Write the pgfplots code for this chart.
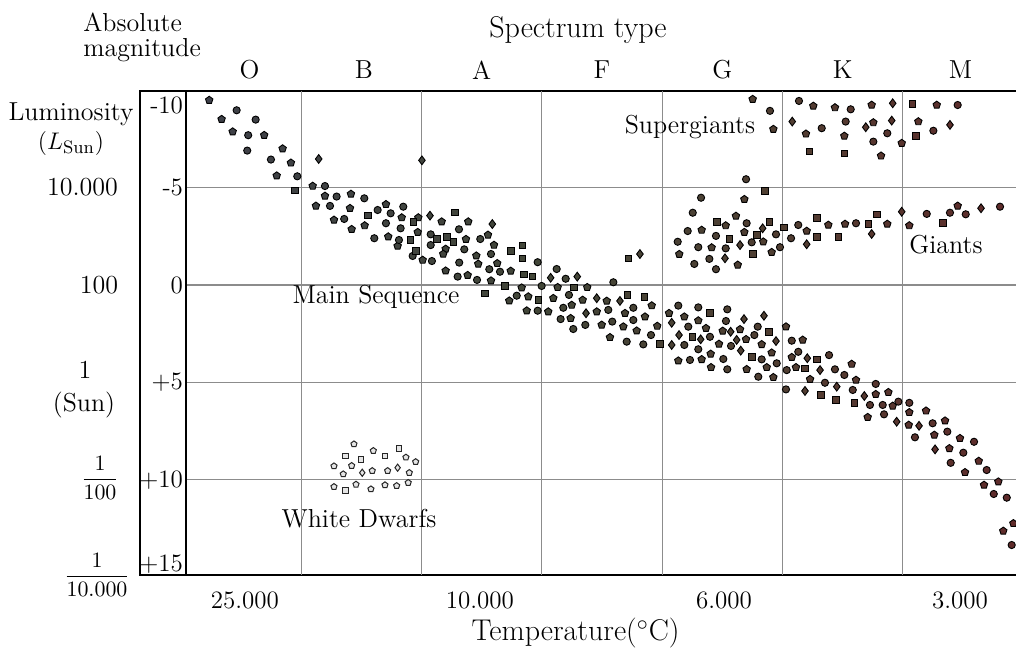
\documentclass[border=0pt]{standalone}
\usepackage{pgfplots}
\pgfplotsset{compat=1.18}
\usetikzlibrary{plotmarks}
\pgfplotsset{
  colormap={hr}{rgb255(0cm)=(62,64,74) rgb255(3cm)=(66,70,56) rgb255(5cm)=(80,62,50) rgb255(7cm)=(96,42,42)},
  star/.style={scatter, only marks, point meta=x, line width=0.45pt},
  dwarf/.style={only marks, draw=black!85, fill=gray!20, line width=0.5pt},
}
\begin{document}
\begin{tikzpicture}[font=\fontsize{13}{15}\selectfont]
\begin{axis}[
  at={(0,0)}, anchor=south west,
  scale only axis, width=416.75pt, height=242pt,
  xmin=0.42, xmax=69.7, ymin=-9.96, ymax=14.89, y dir=reverse,
  clip=false,
  axis line style={line width=0.9pt},
  major tick length=0pt,
  tick label style={font=\fontsize{12.5}{14}\selectfont},
  xtick={5.32,24.85,45.14,64.76}, xticklabels={25.000,10.000,6.000,3.000},
  xticklabel style={yshift=-5pt},
  extra x ticks={10,20,30,40,50,60}, extra x tick labels={},
  extra x tick style={grid=major},
  ytick={-5,0,5,10}, yticklabels={-5,0,+5,+10}, ymajorgrids,
  yticklabel style={xshift=2pt},
  extra y ticks={-9.24,14.33}, extra y tick labels={-10,+15},
  extra y tick style={grid=none},
  major grid style={black!45, line width=0.6pt},
  colormap name=hr, point meta min=0, point meta max=70,
  scatter/use mapped color={draw=black, fill=mapped color},
]
% outer frame holding the magnitude scale
\draw[line width=0.9pt] (axis cs:0.42,-9.96) -- ([xshift=-23pt]axis cs:0.42,-9.96) -- ([xshift=-23pt]axis cs:0.42,14.89) -- (axis cs:0.42,14.89);

% rounded stars
\addplot[star, mark=pentagon*, mark size=1.95pt] coordinates {
(2.35,-9.49) (3.38,-8.51) (4.30,-7.87) (6.92,-7.69) (8.45,-7.00) (9.14,-6.27) (7.96,-5.61) (10.95,-5.08)
(11.97,-4.57) (14.13,-4.67) (11.22,-4.06) (14.05,-3.94) (17.04,-4.14) (12.72,-3.34) (15.27,-3.05) (18.35,-3.46)
(19.73,-3.46) (21.67,-3.25) (23.88,-3.25) (14.19,-2.86) (19.68,-2.71) (23.69,-2.35) (25.52,-2.57) (17.23,-2.48)
(18.01,-2.00) (22.00,-1.85) (26.02,-2.05) (20.09,-1.28) (21.80,-1.59) (24.55,-1.50) (24.71,-1.08) (22.00,-0.73)
(23.83,-0.50) (25.77,-0.22) (26.29,-1.11) (27.41,-0.72) (28.32,0.14) (31.31,0.12) (33.77,0.12) (27.29,0.81)
(28.87,0.60) (30.95,0.68) (33.39,0.77) (35.39,0.82) (28.74,1.32) (30.53,1.37) (32.48,1.03) (34.56,1.37)
(36.91,1.45) (39.13,1.06) (32.39,1.71) (34.97,2.05) (36.77,2.14) (38.57,1.63) (35.66,2.69) (37.88,2.35)
(39.59,2.11) (40.57,1.45) (41.84,1.63) (43.00,1.83) (43.64,2.22) (45.03,2.36) (46.47,2.28) (46.97,2.79)
(44.72,3.03) (48.27,3.05) (50.29,2.14) (44.03,3.54) (49.10,3.48) (51.68,2.82) (41.34,3.89) (43.28,3.82)
(48.69,4.23) (50.77,3.71) (44.06,4.23) (47.02,4.33) (49.24,4.74) (51.12,4.23) (52.29,4.84) (55.75,4.06)
(56.11,4.88) (57.75,5.61) (57.08,6.79) (59.16,6.21) (58.80,5.51) (60.54,6.54) (60.49,7.19) (61.93,6.46)
(62.62,7.70) (63.51,6.97) (63.87,8.39) (64.75,7.87) (65.17,9.62) (66.31,9.04) (66.75,10.27) (67.94,10.10)
(68.35,12.63) (69.19,12.24)
(46.83,-4.40) (46.13,-3.54) (45.28,-3.05) (43.28,-2.82) (46.83,-2.71) (52.01,-2.77) (53.81,-3.08) (48.40,-2.22)
(44.11,-1.92) (41.42,-1.58) (49.10,-1.68) (46.28,-1.03) (55.20,-3.13) (58.71,-3.13) (60.54,-3.05) (64.56,-4.06)
(47.52,-9.54) (49.24,-8.00) (52.56,-9.19) (51.95,-7.76) (54.36,-9.11) (55.14,-7.65) (57.41,-9.24) (57.55,-8.34)
(58.19,-6.63) (59.91,-7.28) (61.29,-8.39) (62.82,-9.24)
};
\addplot[star, mark=*, mark size=1.8pt] coordinates {
(4.63,-8.97) (6.21,-8.49) (5.59,-7.69) (5.51,-6.90) (7.48,-6.44) (9.67,-5.58) (11.97,-5.08) (12.94,-4.54)
(15.24,-4.45) (12.39,-4.06) (16.35,-3.85) (18.48,-4.02) (17.43,-3.68) (13.57,-3.39) (17.04,-3.17) (18.26,-2.91)
(20.76,-2.60) (23.11,-2.86) (24.88,-2.36) (16.07,-2.40) (18.12,-2.31) (20.76,-2.05) (23.55,-1.83) (19.26,-1.49)
(20.86,-1.23) (23.13,-1.15) (25.77,-1.59) (25.63,-0.81) (23.00,-0.43) (24.61,-0.26) (29.65,-1.17) (26.52,-0.68)
(31.23,-0.82) (31.98,-0.32) (29.98,0.05) (35.94,-0.14) (27.91,0.55) (32.25,0.51) (29.65,1.32) (31.78,1.17)
(35.52,1.28) (37.60,1.17) (31.56,1.75) (33.61,2.05) (35.85,1.88) (37.60,1.80) (32.61,2.26) (37.05,2.91)
(39.07,2.57) (38.43,3.05) (41.34,1.06) (43.00,1.15) (45.41,1.25) (42.17,2.14) (45.30,1.85) (43.97,2.66)
(47.94,2.14) (47.66,2.57) (45.72,3.13) (41.84,3.08) (43.00,3.30) (50.77,2.86) (51.31,3.43) (42.31,3.85)
(45.08,3.80) (48.27,3.82) (49.52,4.02) (53.87,3.60) (45.41,4.33) (47.99,4.71) (50.35,4.37) (54.36,4.33)
(53.53,5.02) (50.29,5.36) (55.14,4.62) (55.84,5.39) (57.75,5.08) (57.27,6.16) (58.33,6.16) (59.63,5.99)
(58.44,6.64) (60.54,6.05) (61.01,7.82) (62.48,7.10) (63.70,7.53) (63.98,9.13) (65.03,8.61) (65.92,8.05)
(66.97,9.50) (67.56,10.73) (68.64,10.92) (69.05,13.35)
(46.97,-5.43) (43.23,-4.48) (42.54,-3.71) (47.02,-3.17) (42.12,-2.77) (44.47,-2.52) (49.46,-2.60) (51.31,-3.08)
(41.29,-2.22) (47.44,-2.19) (50.71,-2.40) (43.00,-1.94) (45.28,-1.88) (49.79,-1.94) (43.92,-1.34) (42.67,-1.08)
(44.47,-0.81) (56.11,-3.17) (61.99,-3.65) (63.92,-3.71) (65.23,-3.63) (68.08,-4.02)
(48.96,-8.94) (51.37,-9.45) (53.26,-8.05) (55.25,-8.39) (55.67,-9.02) (57.55,-7.36) (58.71,-7.79) (62.54,-7.92)
(64.56,-9.24)
};
% square stars
\addplot[star, mark=square*, mark size=1.65pt] coordinates {
(9.50,-4.86) (15.54,-3.58) (19.31,-3.24) (22.78,-3.73) (21.26,-2.35) (22.09,-2.48) (22.64,-2.22) (19.09,-2.31)
(19.51,-1.76) (25.27,0.43) (27.41,-1.75) (28.40,-2.04) (28.40,-1.37) (28.51,-0.55) (29.20,-0.43) (37.18,-1.37)
(26.93,0.04) (32.69,0.12) (29.70,0.77) (37.10,0.51) (38.51,0.60) (39.82,3.03) (43.97,1.45) (42.50,2.66)
(48.88,2.40) (47.44,3.68) (52.84,3.82) (51.87,4.28) (53.18,5.65) (54.45,5.91) (55.97,6.05)
(48.55,-4.84) (44.53,-3.25) (48.90,-3.25) (47.86,-2.57) (50.12,-2.96) (52.84,-3.43) (54.64,-2.48) (52.84,-2.48)
(45.58,-2.35) (47.52,-1.58) (57.13,-3.13) (57.83,-3.63) (63.32,-3.17)
(52.23,-6.85) (55.14,-6.76) (60.79,-9.28) (61.10,-7.65)
};
% diamond stars
\addplot[star, mark=diamond*, mark size=2.2pt] coordinates {
(11.45,-6.47) (20.03,-6.40) (20.70,-3.56) (25.88,-3.13) (30.73,-0.37) (32.94,-0.43) (38.15,-1.59) (34.56,0.68)
(36.49,0.82) (33.67,1.45) (40.79,1.94) (46.80,1.75) (48.46,1.58) (41.40,2.57) (43.20,2.79) (45.69,2.40)
(46.19,2.82) (49.46,2.88) (40.79,3.08) (46.53,3.37) (52.06,3.76) (53.12,4.37) (54.51,5.22) (51.87,5.44)
(56.80,5.70) (59.49,7.02) (61.35,7.23) (62.68,8.44)
(48.35,-2.91) (46.47,-2.05) (52.01,-2.09) (45.22,-1.37) (59.91,-3.76) (66.50,-3.94) (57.41,-2.62)
(50.81,-8.39) (56.92,-8.10) (59.16,-9.33) (59.08,-8.44) (63.92,-8.22)
};
% white dwarfs
\addplot[dwarf, mark=pentagon*, mark size=1.6pt] coordinates {
(14.38,8.17) (15.99,8.51) (18.70,8.85) (19.51,9.08) (12.72,9.30) (14.19,9.28) (13.49,9.71) (15.90,9.54)
(17.18,9.54) (18.98,9.64) (12.72,10.36) (14.55,10.24) (15.79,10.48) (16.96,10.27) (17.93,10.31) (18.89,10.15)
};
\addplot[dwarf, mark=square*, mark size=1.35pt] coordinates {
(13.69,8.77) (14.96,8.95) (16.96,8.77) (18.12,8.39) (13.69,10.56)
};
\addplot[dwarf, mark=diamond*, mark size=1.8pt] coordinates {
(15.07,9.64) (18.01,9.38)
};

% group names
\node at (axis cs:42.31,-8.11) {Supergiants};
\node at (axis cs:63.59,-2.05) {Giants};
\node at (axis cs:16.21,0.62) {Main Sequence};
\node at (axis cs:14.80,11.97) {White Dwarfs};

% spectral classes along the top
\node at ([yshift=10.5pt]axis cs:5.7,-9.96) {O};
\node at ([yshift=10.5pt]axis cs:15.2,-9.96) {B};
\node at ([yshift=10.5pt]axis cs:25,-9.96) {A};
\node at ([yshift=10.5pt]axis cs:35,-9.96) {F};
\node at ([yshift=10.5pt]axis cs:45,-9.96) {G};
\node at ([yshift=10.5pt]axis cs:55,-9.96) {K};
\node at ([yshift=10.5pt]axis cs:64.8,-9.96) {M};
\node[font=\fontsize{15}{17}\selectfont] at ([yshift=30.5pt]axis cs:33.0,-9.96) {Spectrum type};
\node[anchor=west, align=left, inner sep=0pt, font=\fontsize{13}{12.5}\selectfont] at ([xshift=-51.5pt,yshift=26.75pt]axis cs:0.42,-9.96) {Absolute\\magnitude};
\node[font=\fontsize{15}{17}\selectfont] at ([yshift=-29pt]axis cs:32.8,14.89) {Temperature($^\circ$C)};

% luminosity scale
\node[align=center, font=\fontsize{13}{14.5}\selectfont] at ([xshift=-57.5pt,yshift=-1pt]axis cs:0.42,-8.09) {Luminosity\\$(L_{\mathrm{Sun}})$};
\node at ([xshift=-51.75pt]axis cs:0.42,-5) {10.000};
\node at ([xshift=-43.5pt]axis cs:0.42,0) {100};
\node at ([xshift=-50.5pt]axis cs:0.42,4.37) {1};
\node at ([xshift=-51pt]axis cs:0.42,6.16) {(Sun)};
\node[font=\fontsize{10.5}{12}\selectfont] at ([xshift=-43pt]axis cs:0.42,9.91) {$\displaystyle\frac{1}{100}$};
\node[font=\fontsize{10.5}{12}\selectfont] at ([xshift=-44.5pt]axis cs:0.42,14.89) {$\displaystyle\frac{1}{10.000}$};
\end{axis}
\pgfresetboundingbox
\useasboundingbox (-93pt,-36.5pt) rectangle (415pt,287.5pt);
\end{tikzpicture}
\end{document}
